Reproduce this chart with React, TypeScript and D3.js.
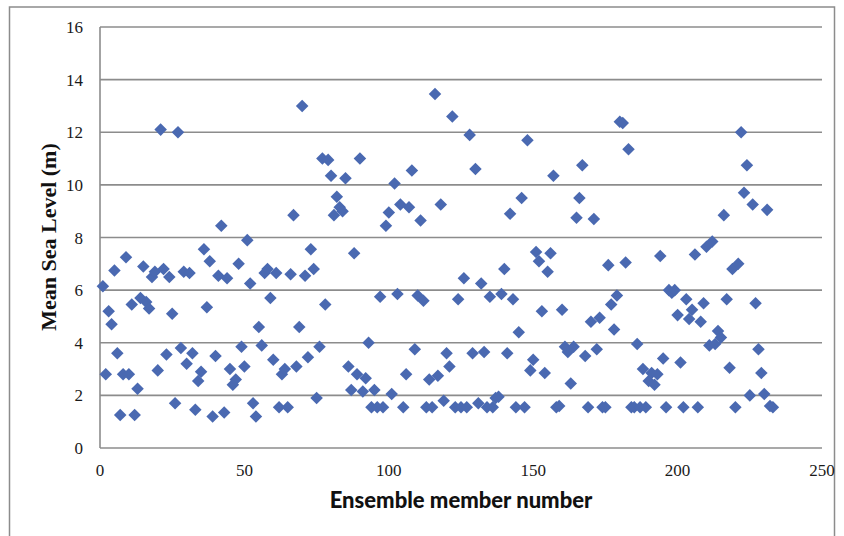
import React, { useEffect, useRef } from "react"
import * as d3 from "d3"

// mean sea level (m) per ensemble member, member number = position in list
const seaLevel = [
    6.15, 2.8, 5.2, 4.7, 6.75, 3.6, 1.25, 2.8, 7.25, 2.8,
    5.45, 1.25, 2.25, 5.7, 6.9, 5.55, 5.3, 6.5, 6.7, 2.95,
    12.1, 6.8, 3.55, 6.5, 5.1, 1.7, 12.0, 3.8, 6.7, 3.2,
    6.65, 3.6, 1.45, 2.55, 2.9, 7.55, 5.35, 7.1, 1.2, 3.5,
    6.55, 8.45, 1.35, 6.45, 3.0, 2.4, 2.6, 7.0, 3.85, 3.1,
    7.9, 6.25, 1.7, 1.2, 4.6, 3.9, 6.65, 6.8, 5.7, 3.35,
    6.65, 1.55, 2.8, 3.0, 1.55, 6.6, 8.85, 3.1, 4.6, 13.0,
    6.55, 3.45, 7.55, 6.8, 1.9, 3.85, 11.0, 5.45, 10.95, 10.35,
    8.85, 9.55, 9.15, 9.0, 10.25, 3.1, 2.2, 7.4, 2.8, 11.0,
    2.15, 2.65, 4.0, 1.55, 2.2, 1.55, 5.75, 1.55, 8.45, 8.95,
    2.05, 10.05, 5.85, 9.25, 1.55, 2.8, 9.15, 10.55, 3.75, 5.8,
    8.65, 5.6, 1.55, 2.6, 1.55, 13.45, 2.75, 9.25, 1.8, 3.6,
    3.1, 12.6, 1.55, 5.65, 1.55, 6.45, 1.55, 11.9, 3.6, 10.6,
    1.7, 6.25, 3.65, 1.55, 5.75, 1.55, 1.9, 1.95, 5.85, 6.8,
    3.6, 8.9, 5.65, 1.55, 4.4, 9.5, 1.55, 11.7, 2.95, 3.35,
    7.45, 7.1, 5.2, 2.85, 6.7, 7.4, 10.35, 1.55, 1.6, 5.25,
    3.85, 3.65, 2.45, 3.85, 8.75, 9.5, 10.75, 3.5, 1.55, 4.8,
    8.7, 3.75, 4.95, 1.55, 1.55, 6.95, 5.45, 4.5, 5.8, 12.4,
    12.35, 7.05, 11.35, 1.55, 1.55, 3.95, 1.55, 3.0, 1.55, 2.55,
    2.85, 2.4, 2.8, 7.3, 3.4, 1.55, 6.0, 5.9, 6.0, 5.05,
    3.25, 1.55, 5.65, 4.9, 5.25, 7.35, 1.55, 4.8, 5.5, 7.65,
    3.9, 7.85, 3.95, 4.45, 4.2, 8.85, 5.65, 3.05, 6.8, 1.55,
    7.0, 12.0, 9.7, 10.75, 2.0, 9.25, 5.5, 3.75, 2.85, 2.05,
    9.05, 1.6, 1.55,
]

const xTicks = [0, 50, 100, 150, 200, 250]
const yTicks = [0, 2, 4, 6, 8, 10, 12, 14, 16]

const W = 844
const H = 536

const App = () => {
    const svgRef = useRef(null)

    useEffect(() => {
        const svg = d3.select(svgRef.current)
        svg.selectAll("*").remove()

        const margin = { top: 27, right: 22, bottom: 88, left: 100 }
        const width = W - margin.left - margin.right
        const height = H - margin.top - margin.bottom

        svg.append("rect")
            .attr("width", W)
            .attr("height", H)
            .attr("fill", "#fff")

        // outer frame of the chart area (bottom edge runs off the picture)
        svg.append("rect")
            .attr("x", 9.5)
            .attr("y", 7)
            .attr("width", 825)
            .attr("height", 560)
            .attr("fill", "none")
            .attr("stroke", "#8c8c8c")
            .attr("stroke-width", 1.5)

        const g = svg
            .append("g")
            .attr("transform", "translate(" + margin.left + "," + margin.top + ")")

        const x = d3.scaleLinear().domain([0, 250]).range([0, width])
        const y = d3.scaleLinear().domain([0, 16]).range([height, 0])

        g.append("g")
            .selectAll("line")
            .data(yTicks)
            .enter()
            .append("line")
            .attr("x1", 0)
            .attr("x2", width)
            .attr("y1", (d) => y(d))
            .attr("y2", (d) => y(d))
            .attr("stroke", "#8c8c8c")
            .attr("stroke-width", 1.6)

        g.append("line")
            .attr("x1", 0)
            .attr("x2", 0)
            .attr("y1", 0)
            .attr("y2", height)
            .attr("stroke", "#8c8c8c")
            .attr("stroke-width", 1.6)

        g.append("g")
            .selectAll("text")
            .data(yTicks)
            .enter()
            .append("text")
            .attr("x", -17)
            .attr("y", (d) => y(d) + 6)
            .attr("text-anchor", "end")
            .attr("font-family", "Liberation Serif, serif")
            .attr("font-size", "17px")
            .attr("fill", "#1a1a1a")
            .text((d) => d)

        g.append("g")
            .selectAll("text")
            .data(xTicks)
            .enter()
            .append("text")
            .attr("x", (d) => x(d))
            .attr("y", height + 28)
            .attr("text-anchor", "middle")
            .attr("font-family", "Liberation Serif, serif")
            .attr("font-size", "17px")
            .attr("fill", "#1a1a1a")
            .text((d) => d)

        const diamond = d3.symbol().type(d3.symbolDiamond2).size(100)

        g.append("g")
            .selectAll("path")
            .data(seaLevel)
            .enter()
            .append("path")
            .attr("d", diamond)
            .attr("transform", (d, i) => "translate(" + x(i + 1) + "," + y(d) + ")")
            .attr("fill", "#4a69b1")

        svg.append("text")
            .attr("x", margin.left + width / 2)
            .attr("y", 508)
            .attr("text-anchor", "middle")
            .attr("font-family", "Lato, sans-serif")
            .attr("font-weight", "900")
            .attr("font-size", "22px")
            .attr("fill", "#111")
            .text("Ensemble member number")

        svg.append("text")
            .attr("transform", "translate(56," + 237 + ") rotate(-90)")
            .attr("text-anchor", "middle")
            .attr("font-family", "Liberation Serif, serif")
            .attr("font-weight", "bold")
            .attr("font-size", "22px")
            .attr("fill", "#111")
            .text("Mean Sea Level (m)")
    }, [])

    return (
        <svg
            ref={svgRef}
            width={W}
            height={H}
            style={{ position: "absolute", left: 0, top: 0 }}
        />
    )
}

export default App
